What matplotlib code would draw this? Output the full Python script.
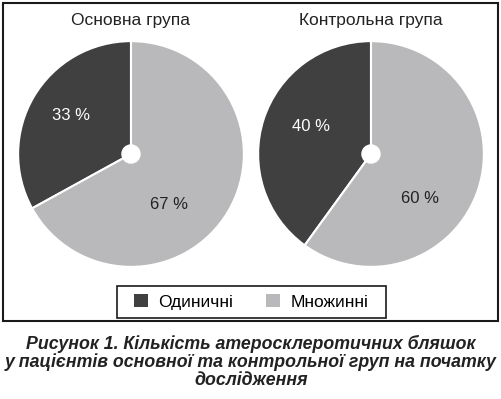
import matplotlib
matplotlib.use("Agg")
import matplotlib.pyplot as plt
from matplotlib.patches import Rectangle, Circle, Patch

plt.rcParams['font.family'] = ['Liberation Sans', 'DejaVu Sans']

groups = ['Основна група', 'Контрольна група']
categories = ['Одиничні', 'Множинні']
values = [[33, 67], [40, 60]]
pct_labels = [['33 %', '67 %'], ['40 %', '60 %']]
caption = ('Рисунок 1. Кількість атеросклеротичних бляшок\n'
           'у пацієнтів основної та контрольної груп на початку\n'
           'дослідження')

colors = ['#404040', '#b9b9bb']
text_colors = ['white', '#222222']
# label spots inside each pie (radius = 1)
label_pos = [[(-0.53, 0.34), (0.34, -0.45)], [(-0.53, 0.24), (0.43, -0.39)]]

W, H = 502, 399
fig = plt.figure(figsize=(W / 100, H / 100), dpi=100)

centers_px = [(131, 154), (371, 154)]
R = 114

for k, (cx, cy) in enumerate(centers_px):
    ax = fig.add_axes([(cx - R) / W, (H - cy - R) / H, 2 * R / W, 2 * R / H])
    ax.pie(values[k], colors=colors, startangle=90, counterclock=True,
           wedgeprops=dict(edgecolor='white', linewidth=1.5))
    ax.add_patch(Circle((0, 0), 0.08, color='white', zorder=5))
    ax.set_xlim(-1.01, 1.01)
    ax.set_ylim(-1.01, 1.01)
    ax.set_aspect('equal')
    ax.axis('off')
    for i, (px, py) in enumerate(label_pos[k]):
        ax.text(px, py, pct_labels[k][i], ha='center', va='center',
                fontsize=12, color=text_colors[i])
    fig.text(cx / W, 1 - 20 / H, groups[k], ha='center', va='center',
             fontsize=12.5, color='#222222')

# outer frame
fig.patches.append(Rectangle((3 / W, 1 - 321 / H), 495 / W, 318 / H,
                             transform=fig.transFigure, fill=False,
                             edgecolor='#1a1a1a', linewidth=1.5))

# legend frame
fig.patches.append(Rectangle((117 / W, 1 - 318 / H), 269 / W, 32 / H,
                             transform=fig.transFigure, fill=False,
                             edgecolor='#1a1a1a', linewidth=1.2))

handles = [Patch(facecolor=c, edgecolor='none') for c in colors]
leg = fig.legend(handles, categories, loc='center', ncol=2,
                 bbox_to_anchor=(251 / W, 1 - 302 / H), frameon=False,
                 fontsize=12.5, handlelength=0.8, handleheight=0.8,
                 columnspacing=1.9, handletextpad=0.6, borderaxespad=0)

fig.text(0.5, 1 - 362 / H, caption, ha='center', va='center',
         fontsize=12.8, fontweight='bold', fontstyle='italic',
         color='#222222', linespacing=1.03)

fig.savefig('out.png', dpi=100)
